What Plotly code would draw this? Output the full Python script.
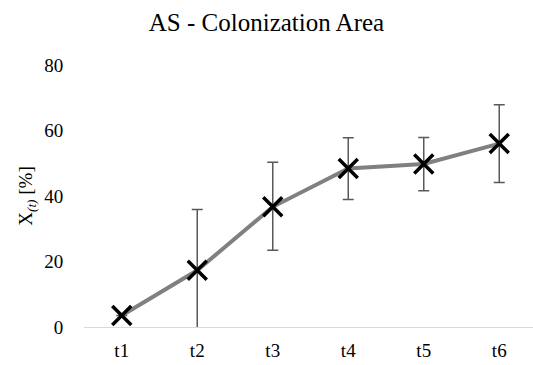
import plotly.graph_objects as go

categories = ["t1", "t2", "t3", "t4", "t5", "t6"]
values = [3.5, 17.3, 36.7, 48.4, 49.8, 56.0]
err_plus = [0.0, 18.6, 13.6, 9.4, 8.1, 11.9]
err_minus = [0.0, 18.6, 13.3, 9.5, 8.2, 11.9]
y_ticks = [0, 20, 40, 60, 80]

FONT = "Liberation Serif, Times New Roman, serif"

fig = go.Figure()
fig.add_trace(go.Scatter(
    x=categories, y=values, mode="lines+markers",
    line=dict(color="#808080", width=4),
    marker=dict(symbol="x-thin", size=19, color="black",
                line=dict(color="black", width=3.5)),
    error_y=dict(type="data", symmetric=False, array=err_plus, arrayminus=err_minus,
                 color="#595959", thickness=1.5, width=5.5),
    cliponaxis=False,
    showlegend=False,
))

fig.update_layout(
    width=533, height=365,
    margin=dict(l=84, r=0, t=65, b=38),
    paper_bgcolor="white", plot_bgcolor="white",
    font=dict(family=FONT, size=19, color="#000000"),
    title=dict(text="AS - Colonization Area", x=0.5, xanchor="center",
               y=0.94, yanchor="middle", font=dict(family=FONT, size=25, color="#000000")),
    xaxis=dict(
        type="category", range=[-0.5, 5.447],
        showgrid=False, zeroline=False,
        showline=True, linecolor="#d9d9d9", linewidth=1,
        ticks="outside", ticklen=6, tickcolor="rgba(0,0,0,0)",
        tickfont=dict(family=FONT, size=19),
    ),
    yaxis=dict(
        range=[0, 80], tickvals=y_ticks,
        showgrid=False, zeroline=False, showline=False,
        ticks="outside", ticklen=16, tickcolor="rgba(0,0,0,0)",
        tickfont=dict(family=FONT, size=19),
        title=dict(text="X<sub><i>(t)</i></sub> [%]", font=dict(family=FONT, size=19), standoff=6),
    ),
)

fig.write_html("out.html")
